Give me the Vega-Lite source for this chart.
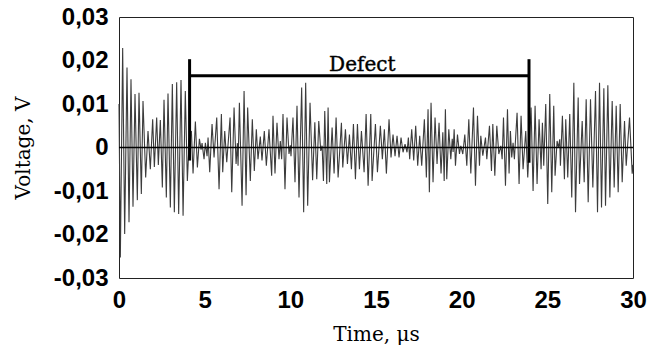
{
  "$schema": "https://vega.github.io/schema/vega-lite/v6.json",
  "width": 514,
  "height": 261,
  "autosize": {"type": "none"},
  "padding": {"left": 119, "top": 17, "right": 14, "bottom": 72},
  "background": "white",
  "config": {
    "view": {"stroke": "#222", "strokeWidth": 1},
    "axis": {"grid": false, "domain": false, "ticks": false, "labelFont": "Liberation Sans", "labelFontWeight": "bold", "labelFontSize": 24, "labelColor": "#000", "titleFont": "DejaVu Serif", "titleFontWeight": "normal", "titleFontSize": 20, "titleColor": "#000"}
  },
  "datasets": {
    "wave": [
      {"t":0,"v":0.01},{"t":0.078,"v":-0.0253},{"t":0.214,"v":0.0229},{"t":0.331,"v":-0.0199},{"t":0.467,"v":0.0184},{"t":0.584,"v":-0.0172},{"t":0.7,"v":0.0157},{"t":0.817,"v":-0.0136},{"t":0.934,"v":0.0123},{"t":1.07,"v":-0.0121},{"t":1.167,"v":0.0126},{"t":1.304,"v":-0.0107},{"t":1.401,"v":0.0107},{"t":1.557,"v":-0.0069},{"t":1.693,"v":0.0038},{"t":1.829,"v":-0.005},{"t":1.965,"v":0.0065},{"t":2.063,"v":-0.0045},{"t":2.199,"v":0.0069},{"t":2.296,"v":-0.004},{"t":2.413,"v":0.0063},{"t":2.53,"v":-0.0092},{"t":2.627,"v":0.011},{"t":2.763,"v":-0.0115},{"t":2.86,"v":0.0124},{"t":2.997,"v":-0.0138},{"t":3.113,"v":0.0146},{"t":3.23,"v":-0.0149},{"t":3.366,"v":0.015},{"t":3.483,"v":-0.0153},{"t":3.619,"v":0.0155},{"t":3.74,"v":-0.0157},{"t":3.87,"v":0.013},{"t":3.99,"v":-0.0077},
      {"t":4.1,"v":0.002},{"t":4.225,"v":0.0038},{"t":4.322,"v":-0.006},{"t":4.458,"v":0.006},{"t":4.575,"v":-0.0046},{"t":4.692,"v":0.002},{"t":4.789,"v":-0.0005},{"t":4.848,"v":0.001},{"t":4.964,"v":-0.0027},{"t":5.042,"v":0.0011},{"t":5.14,"v":-0.002},{"t":5.198,"v":0.0023},{"t":5.295,"v":-0.0057},{"t":5.431,"v":0.0054},{"t":5.548,"v":-0.0023},{"t":5.704,"v":0.0069},{"t":5.84,"v":-0.0096},{"t":5.976,"v":0.0077},{"t":6.054,"v":-0.0057},{"t":6.171,"v":0.0038},{"t":6.288,"v":-0.0034},{"t":6.482,"v":0.0069},{"t":6.58,"v":-0.0103},{"t":6.716,"v":0.0092},{"t":6.833,"v":-0.0038},{"t":6.91,"v":0.001},{"t":6.949,"v":-0.0042},{"t":7.027,"v":0.0103},{"t":7.183,"v":-0.0134},{"t":7.3,"v":0.013},{"t":7.416,"v":-0.011},
      {"t":7.509,"v":0.0092},{"t":7.665,"v":-0.0077},{"t":7.781,"v":0.0065},{"t":7.898,"v":-0.0054},{"t":8.015,"v":0.0042},{"t":8.112,"v":-0.0027},{"t":8.248,"v":0.0025},{"t":8.346,"v":-0.003},{"t":8.482,"v":0.0038},{"t":8.599,"v":-0.0042},{"t":8.754,"v":0.0042},{"t":8.91,"v":-0.0065},{"t":8.988,"v":0.0073},{"t":9.105,"v":-0.006},{"t":9.221,"v":0.0057},{"t":9.338,"v":-0.0027},{"t":9.416,"v":0.0015},{"t":9.494,"v":-0.0027},{"t":9.572,"v":0.0077},{"t":9.688,"v":-0.0096},{"t":9.805,"v":0.0069},{"t":9.922,"v":-0.0015},{"t":10.0,"v":0.0005},{"t":10.039,"v":-0.002},{"t":10.155,"v":0.0069},{"t":10.272,"v":-0.008},{"t":10.389,"v":0.0096},{"t":10.506,"v":-0.0115},{"t":10.661,"v":0.0138},{"t":10.778,"v":-0.0149},{"t":10.895,"v":0.0149},{"t":11.012,"v":-0.0134},{"t":11.15,"v":0.0103},{"t":11.3,"v":-0.0075},{"t":11.43,"v":0.0058},
      {"t":11.542,"v":-0.0073},{"t":11.659,"v":0.0061},{"t":11.776,"v":-0.0008},{"t":11.854,"v":0.0004},{"t":11.932,"v":-0.0077},{"t":12.009,"v":0.0084},{"t":12.126,"v":-0.0084},{"t":12.204,"v":0.0092},{"t":12.282,"v":-0.008},{"t":12.438,"v":0.0046},{"t":12.554,"v":-0.006},{"t":12.671,"v":0.0069},{"t":12.788,"v":-0.0069},{"t":12.982,"v":0.0057},{"t":13.06,"v":-0.0046},{"t":13.216,"v":0.0042},{"t":13.333,"v":-0.0038},{"t":13.45,"v":0.003},{"t":13.566,"v":-0.005},{"t":13.683,"v":0.0054},{"t":13.8,"v":-0.0073},{"t":13.917,"v":0.0054},{"t":14.033,"v":-0.005},{"t":14.15,"v":0.0038},{"t":14.306,"v":-0.0057},{"t":14.423,"v":0.0077},{"t":14.539,"v":-0.0088},{"t":14.695,"v":0.0077},{"t":14.773,"v":-0.0077},{"t":14.967,"v":0.0054},{"t":15.084,"v":-0.0057},
      {"t":15.255,"v":0.005},{"t":15.371,"v":-0.0027},{"t":15.488,"v":0.0042},{"t":15.605,"v":-0.006},{"t":15.761,"v":0.0065},{"t":15.877,"v":-0.0023},{"t":15.994,"v":0.003},{"t":16.111,"v":-0.002},{"t":16.228,"v":0.0027},{"t":16.344,"v":-0.0023},{"t":16.461,"v":0.0023},{"t":16.578,"v":-0.0011},{"t":16.695,"v":0.0008},{"t":16.811,"v":-0.0011},{"t":16.889,"v":0.0023},{"t":16.967,"v":-0.0027},{"t":17.084,"v":0.0042},{"t":17.201,"v":-0.003},{"t":17.317,"v":0.005},{"t":17.434,"v":-0.0042},{"t":17.551,"v":0.0027},{"t":17.668,"v":-0.0042},{"t":17.823,"v":0.0065},{"t":17.94,"v":-0.0069},{"t":18.038,"v":0.0088},{"t":18.115,"v":-0.0103},{"t":18.213,"v":0.0103},{"t":18.329,"v":-0.008},{"t":18.446,"v":0.0069},{"t":18.563,"v":-0.0038},{"t":18.68,"v":0.0057},{"t":18.796,"v":-0.006},
      {"t":18.9,"v":0.0035},{"t":18.98,"v":-0.0077},{"t":19.05,"v":0.0088},{"t":19.13,"v":-0.0073},{"t":19.249,"v":0.0042},{"t":19.366,"v":-0.0027},{"t":19.45,"v":0.002},{"t":19.5,"v":-0.001},{"t":19.561,"v":0.0042},{"t":19.638,"v":-0.0042},{"t":19.755,"v":0.003},{"t":19.872,"v":-0.0015},{"t":19.95,"v":0.0004},{"t":20.067,"v":-0.0015},{"t":20.183,"v":0.003},{"t":20.3,"v":-0.0042},{"t":20.417,"v":0.0065},{"t":20.534,"v":-0.006},{"t":20.689,"v":0.0092},{"t":20.806,"v":-0.0088},{"t":20.923,"v":0.0073},{"t":21.039,"v":-0.0042},{"t":21.117,"v":0.0027},{"t":21.234,"v":-0.0019},{"t":21.39,"v":0.0023},{"t":21.468,"v":-0.0027},{"t":21.623,"v":0.005},{"t":21.74,"v":-0.0054},{"t":21.818,"v":0.0054},{"t":21.935,"v":-0.0065},{"t":22.051,"v":0.005},{"t":22.168,"v":-0.0015},{"t":22.285,"v":0.0004},{"t":22.363,"v":-0.0027},{"t":22.441,"v":0.0069},{"t":22.557,"v":-0.0088},{"t":22.674,"v":0.0088},
      {"t":22.767,"v":-0.006},{"t":22.845,"v":0.0038},{"t":22.922,"v":-0.0023},{"t":23.0,"v":0.0011},{"t":23.078,"v":-0.0027},{"t":23.234,"v":0.008},{"t":23.351,"v":-0.0084},{"t":23.467,"v":0.0073},{"t":23.584,"v":-0.005},{"t":23.74,"v":0.0038},{"t":23.857,"v":-0.0069},{"t":24.051,"v":0.0092},{"t":24.168,"v":-0.01},{"t":24.285,"v":0.0096},{"t":24.401,"v":-0.0084},{"t":24.518,"v":0.0065},{"t":24.635,"v":-0.005},{"t":24.713,"v":0.0057},{"t":24.791,"v":-0.0042},{"t":24.907,"v":0.01},{"t":25.024,"v":-0.013},{"t":25.141,"v":0.0123},{"t":25.258,"v":-0.0103},{"t":25.374,"v":0.0096},{"t":25.452,"v":-0.0065},{"t":25.569,"v":0.0015},{"t":25.647,"v":0.0},{"t":25.725,"v":0.0019},{"t":25.764,"v":-0.0042},{"t":25.88,"v":0.0073},{"t":25.997,"v":-0.0073},{"t":26.075,"v":0.0065},{"t":26.192,"v":-0.0069},{"t":26.308,"v":0.0077},{"t":26.425,"v":-0.0115},
      {"t":26.547,"v":0.0149},{"t":26.645,"v":-0.0149},{"t":26.8,"v":0.0115},{"t":26.878,"v":-0.0084},{"t":27.034,"v":0.0061},{"t":27.151,"v":-0.008},{"t":27.267,"v":0.0111},{"t":27.384,"v":-0.0126},{"t":27.52,"v":0.0111},{"t":27.656,"v":-0.0092},{"t":27.812,"v":0.013},{"t":27.929,"v":-0.0149},{"t":28.046,"v":0.0149},{"t":28.162,"v":-0.0138},{"t":28.299,"v":0.0136},{"t":28.396,"v":-0.0134},{"t":28.532,"v":0.0143},{"t":28.649,"v":-0.0115},{"t":28.785,"v":0.0107},{"t":28.902,"v":-0.0092},{"t":29.019,"v":0.0096},{"t":29.135,"v":-0.0103},{"t":29.252,"v":0.01},{"t":29.369,"v":-0.008},{"t":29.505,"v":0.0061},{"t":29.603,"v":-0.0042},{"t":29.797,"v":0.0069},{"t":29.953,"v":-0.006},{"t":30,"v":-0.004}
    ],
    "bracket": [
      {"x": 4.12, "x2": 4.12, "y": -0.003, "y2": 0.0203},
      {"x": 4.12, "x2": 23.93, "y": 0.0165, "y2": 0.0165},
      {"x": 23.93, "x2": 23.93, "y": -0.0035, "y2": 0.0203}
    ]
  },
  "layer": [
    {
      "data": {"name": "wave"},
      "mark": {"type": "line", "stroke": "#3c3c3c", "strokeWidth": 1.1},
      "encoding": {
        "x": {"field": "t", "type": "quantitative", "scale": {"domain": [0, 30], "nice": false},
          "axis": {"values": [0, 5, 10, 15, 20, 25, 30], "title": "Time, μs", "labelPadding": 10, "titlePadding": 12, "labelFlush": false}},
        "y": {"field": "v", "type": "quantitative", "scale": {"domain": [-0.03, 0.03], "nice": false, "zero": false},
          "axis": {"values": [-0.03, -0.02, -0.01, 0, 0.01, 0.02, 0.03], "title": "Voltage, V", "labelPadding": 11, "titlePadding": 20, "labelFlush": false,
            "labelExpr": "abs(datum.value) < 1e-9 ? '0' : (datum.value < 0 ? '-' : '') + replace(format(abs(datum.value), '.2f'), '.', ',')"}}
      }
    },
    {
      "data": {"values": [{}]},
      "mark": {"type": "rule", "stroke": "#000", "strokeWidth": 1.3},
      "encoding": {"y": {"datum": 0}}
    },
    {
      "data": {"name": "bracket"},
      "mark": {"type": "rule", "stroke": "#000", "strokeWidth": 3},
      "encoding": {
        "x": {"field": "x", "type": "quantitative"},
        "x2": {"field": "x2"},
        "y": {"field": "y", "type": "quantitative"},
        "y2": {"field": "y2"}
      }
    },
    {
      "data": {"values": [{"t": 14.2, "v": 0.0176, "label": "Defect"}]},
      "mark": {"type": "text", "font": "DejaVu Serif", "fontSize": 20, "baseline": "alphabetic", "align": "center", "color": "#000", "stroke": "#000", "strokeWidth": 0.4},
      "encoding": {
        "x": {"field": "t", "type": "quantitative"},
        "y": {"field": "v", "type": "quantitative"},
        "text": {"field": "label"}
      }
    }
  ]
}
